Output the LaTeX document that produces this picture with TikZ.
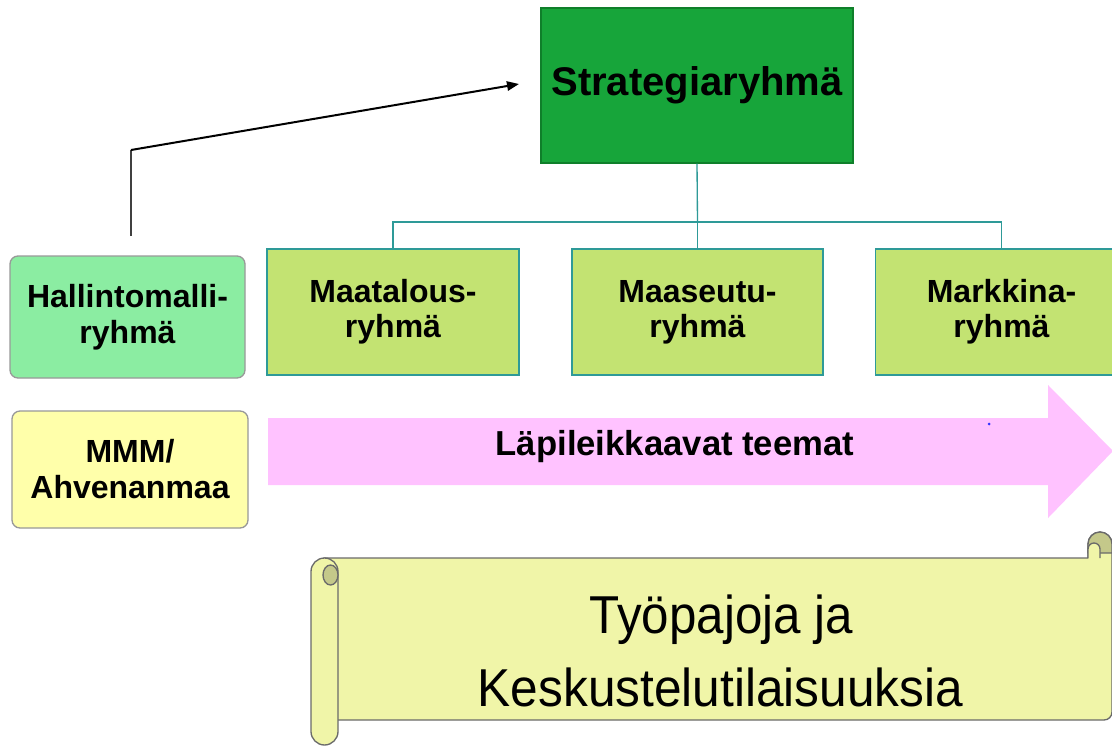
\documentclass[tikz,border=0pt]{standalone}
\usepackage{fontspec}
\setmainfont{Liberation Sans}
\usetikzlibrary{arrows.meta}
\definecolor{sgreen}{HTML}{17A53A}
\definecolor{sborder}{HTML}{0F7F2A}
\definecolor{lgreen}{HTML}{C3E372}
\definecolor{teal}{HTML}{2E9A98}
\definecolor{hgreen}{HTML}{8BEDA2}
\definecolor{myellow}{HTML}{FFFFAA}
\definecolor{pink}{HTML}{FFC2FF}
\definecolor{scrollfill}{HTML}{F0F5A8}
\definecolor{scrolldark}{HTML}{C4C88A}
\definecolor{scrolldraw}{HTML}{6A6A6A}
\tikzset{
  topbox/.style={draw=sborder, line width=1pt, fill=sgreen, inner sep=0pt,
    font=\fontsize{30}{36}\bfseries\selectfont},
  groupbox/.style={draw=teal, line width=1pt, fill=lgreen, inner sep=0pt, align=center,
    minimum width=252*0.75pt, minimum height=126*0.75pt,
    font=\fontsize{24}{26}\bfseries\selectfont},
  sidebox/.style={draw=gray!80, line width=1pt, rounded corners=6pt, inner sep=0pt, align=center,
    font=\fontsize{24}{27}\bfseries\selectfont},
  teal line/.style={draw=teal, line width=1pt},
  scroll/.style={draw=scrolldraw, line width=1pt, fill=scrollfill, line join=round},
  scrolltext/.style={font=\fontsize{40}{48}\selectfont, inner sep=0pt, anchor=base}
}
\begin{document}
\begin{tikzpicture}[x=0.75pt,y=-0.75pt]
\clip (0,0) rectangle (1112,746);
\fill[white] (0,0) rectangle (1112,746);

% top box
\node[topbox, minimum width=312*0.75pt, minimum height=155*0.75pt] (S) at (697,85.5) {Strategiaryhmä};

% group boxes
\node[groupbox] (A) at (393,312) {Maatalous-\\ryhmä};
\node[groupbox, minimum width=251*0.75pt] (B) at (697.5,312) {Maaseutu-\\ryhmä};
\node[groupbox] (C) at (1001.5,312) {Markkina-\\ryhmä};

% tree connector
\coordinate (J) at (697.5,222);
\draw[teal line] (S.south) -- (J);
\draw[teal line] (A.north) |- (J) -| (C.north);
\draw[teal line] (J) -- (B.north);

% side boxes
\node[sidebox, fill=hgreen, minimum width=235*0.75pt, minimum height=122*0.75pt] (H) at (127.5,317) {Hallintomalli-\\ryhmä};
\node[sidebox, fill=myellow, minimum width=236*0.75pt, minimum height=117*0.75pt] (M) at (130,469.5) {MMM/\\Ahvenanmaa};

% arrow from Hallintomalli to Strategia
\coordinate (H0) at (131,236);
\coordinate (K) at (131,150);
\coordinate (E) at (519,84);
\draw[line width=1.5pt, black!75] (H0) -- (K);
\draw[line width=1.5pt, -{Triangle[length=9pt,width=7pt]}] (K) -- (E);

% pink arrow
\fill[pink] (268,418) -- (1048,418) -- (1048,385) -- (1113,451) -- (1048,518) -- (1048,485) -- (268,485) -- cycle;
\node[font=\fontsize{26}{30}\bfseries\selectfont] (L) at (675,447) {Läpileikkaavat teemat};
\fill[blue!80] (989,424) circle (1.5);

% scroll: banner
\path[scroll] (324,558) -- (1088,558) -- (1088,544) arc[start angle=180, end angle=360, radius=12]
  -- (1112,712) arc[start angle=0, end angle=90, radius=8] -- (324,720) -- cycle;
% right curl
\path[scroll, fill=scrolldark] (1088,544) arc[start angle=180, end angle=360, radius=12]
  -- (1112,553) -- (1088,553) -- cycle;
\path[scroll] (1088,558) -- (1088,549) arc[start angle=180, end angle=360, radius=6] -- (1100,558);
% left roll
\path[scroll] (311,571.5) arc[start angle=180, end angle=360, radius=13.5]
  -- (338,731.5) arc[start angle=0, end angle=180, radius=13.5] -- cycle;
\path[scroll, fill=scrolldark] (330.5,575) ellipse[x radius=7.5, y radius=10];
\node[scrolltext] (T1) at (721.5,633) {\scalebox{0.925}[1]{Työpajoja ja}};
\node[scrolltext] (T2) at (720.5,706) {\scalebox{0.93}[1]{Keskustelutilaisuuksia}};
\end{tikzpicture}
\end{document}
